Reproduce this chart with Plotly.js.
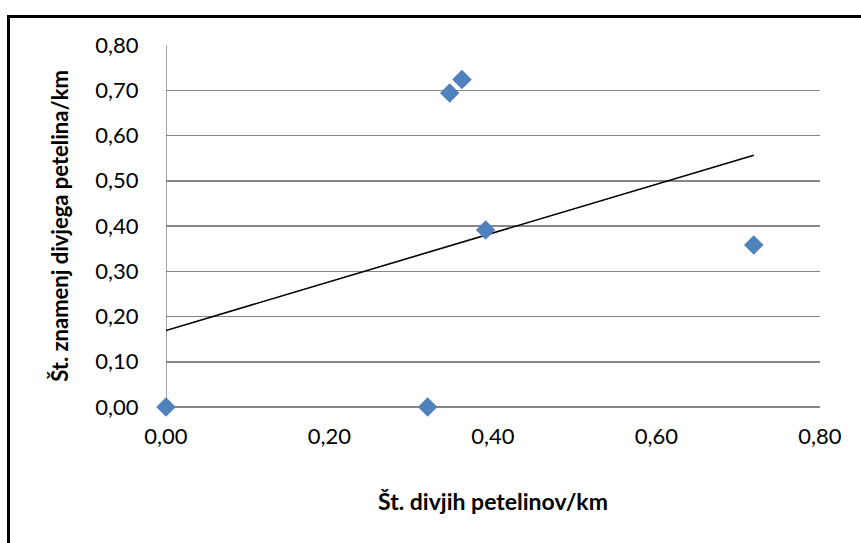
<!DOCTYPE html>
<html>
<head>
<meta charset="utf-8">
<script src="https://cdn.plot.ly/plotly-3.0.1.min.js"></script>
<style>
  html, body { margin: 0; padding: 0; background: #fff; overflow: hidden; }
  #frame { position: absolute; left: 7px; top: 15px; width: 900px; height: 600px;
           border-top: 3px solid #000; border-left: 3px solid #000; box-sizing: border-box; pointer-events: none; z-index: 5; }
  #chart { position: absolute; left: 0; top: 0; width: 861px; height: 543px; }
</style>
</head>
<body>
<div id="chart"></div>
<div id="frame"></div>
<script>
// Data
const birdsPerKm = [0.00, 0.32, 0.347, 0.362, 0.391, 0.719];   // Št. divjih petelinov/km
const signsPerKm = [0.00, 0.00, 0.694, 0.724, 0.391, 0.358];   // Št. znamenj divjega petelina/km
const tickVals = [0, 0.1, 0.2, 0.3, 0.4, 0.5, 0.6, 0.7, 0.8];
const tickLabelsY = ["0,00", "0,10", "0,20", "0,30", "0,40", "0,50", "0,60", "0,70", "0,80"];
const tickValsX = [0, 0.2, 0.4, 0.6, 0.8];
const tickLabelsX = ["0,00", "0,20", "0,40", "0,60", "0,80"];
const xTitle = "Št. divjih petelinov/km";
const yTitle = "Št. znamenj divjega petelina/km";

// Linear trendline (least squares) from the data
const n = birdsPerKm.length;
const mx = birdsPerKm.reduce((a, b) => a + b, 0) / n;
const my = signsPerKm.reduce((a, b) => a + b, 0) / n;
let sxy = 0, sxx = 0;
for (let i = 0; i < n; i++) { sxy += (birdsPerKm[i] - mx) * (signsPerKm[i] - my); sxx += (birdsPerKm[i] - mx) ** 2; }
const slope = sxy / sxx, intercept = my - slope * mx;
const xMin = Math.min(...birdsPerKm), xMax = Math.max(...birdsPerKm);
const trendX = [xMin, xMax];
const trendY = trendX.map(x => intercept + slope * x);

const font = "Lato, 'Open Sans', sans-serif";

const traces = [
  { x: trendX, y: trendY, mode: 'lines', type: 'scatter', line: { color: '#000', width: 1.6 }, hoverinfo: 'skip', cliponaxis: false },
  { x: birdsPerKm, y: signsPerKm, mode: 'markers', type: 'scatter', cliponaxis: false,
    marker: { symbol: 'diamond', size: 15, color: '#4F81BD', line: { width: 0 } } }
];

const layout = {
  width: 861, height: 543,
  margin: { l: 166, r: 41, t: 45, b: 136 },
  paper_bgcolor: '#fff', plot_bgcolor: '#fff',
  showlegend: false,
  font: { family: font, size: 22, color: '#000' },
  xaxis: {
    range: [0, 0.8], tickvals: tickValsX, ticktext: tickLabelsX,
    showgrid: false, zeroline: false, showline: false,
    ticks: 'outside', ticklen: 10, tickcolor: 'rgba(0,0,0,0)',
    tickfont: { family: font, size: 22, color: '#000' },
    title: { text: xTitle, font: { family: font, size: 23, color: '#000', weight: 'bold' }, standoff: 45 }
  },
  yaxis: {
    range: [0, 0.8], tickvals: tickVals, ticktext: tickLabelsY,
    showgrid: true, gridcolor: '#868686', gridwidth: 1.5,
    zeroline: true, zerolinecolor: '#868686', zerolinewidth: 1.5,
    showline: false,
    ticks: 'outside', ticklen: 22, tickcolor: 'rgba(0,0,0,0)',
    tickfont: { family: font, size: 22, color: '#000' },
    title: { text: yTitle, font: { family: font, size: 22, color: '#000', weight: 'bold' }, standoff: 20 }
  },
  shapes: [
    { type: 'line', xref: 'x', yref: 'paper', x0: 0, x1: 0, y0: 0, y1: 1, line: { color: '#868686', width: 1.5 }, layer: 'below' }
  ]
};

Plotly.newPlot('chart', traces, layout, { staticPlot: true, displayModeBar: false });
</script>
</body>
</html>
